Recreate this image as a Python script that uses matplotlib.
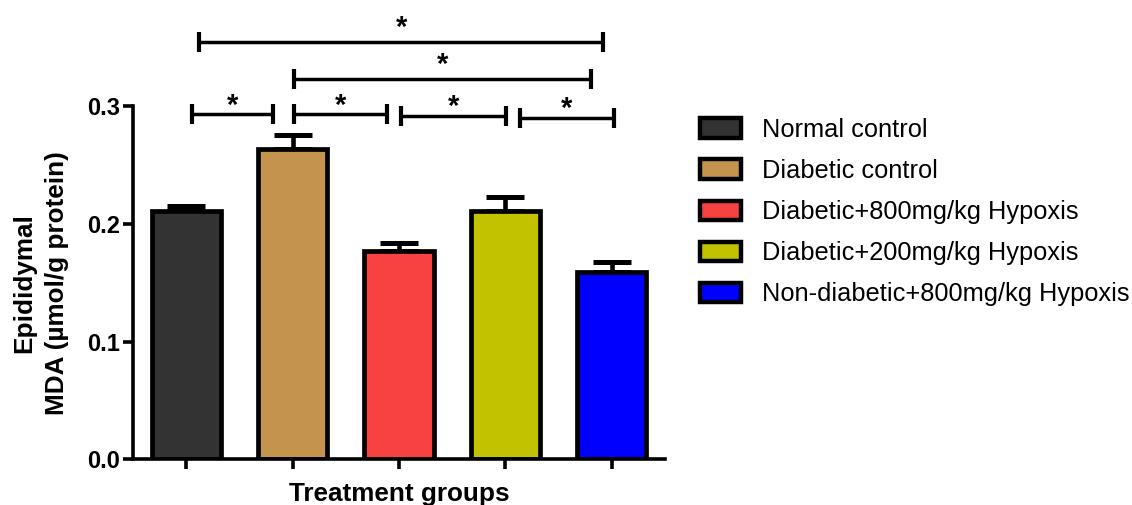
import matplotlib
matplotlib.use("Agg")
import matplotlib.pyplot as plt
from matplotlib.patches import Patch
import numpy as np

plt.rcParams['font.family'] = ['Liberation Sans', 'DejaVu Sans']

groups = ["Normal control", "Diabetic control", "Diabetic+800mg/kg Hypoxis",
          "Diabetic+200mg/kg Hypoxis", "Non-diabetic+800mg/kg Hypoxis"]
means = [0.2105, 0.2638, 0.1769, 0.2105, 0.1594]
errors = [0.0049, 0.0117, 0.0068, 0.0119, 0.0081]
colors = ["#333333", "#C4944F", "#F84242", "#C2C200", "#0000FF"]
yticks = [0.0, 0.1, 0.2, 0.3]
ytick_labels = ["0.0", "0.1", "0.2", "0.3"]

# significance brackets (x start, x end, height) and their labels
br_x1 = [0.12, 1.015, 0.055, 1.015, 2.018, 3.136]
br_x2 = [3.92, 3.80, 0.818, 1.883, 3.004, 4.02]
br_y = [0.354, 0.3229, 0.2929, 0.2929, 0.2915, 0.2900]
br_lab = ["*", "*", "*", "*", "*", "*"]

W, H = 1132, 505
fig = plt.figure(figsize=(W / 100, H / 100), dpi=100)
ax = fig.add_axes([133 / W, (H - 459.3) / H, 532 / W, 353.3 / H])

x = np.arange(len(groups))
ax.bar(x, means, width=0.651, color=colors, edgecolor="black", linewidth=3.4,
       zorder=2)
ax.errorbar(x, means, yerr=[np.zeros(len(errors)), errors], fmt="none",
            ecolor="black", elinewidth=3.3, capsize=13.5, capthick=3.6,
            zorder=1)

ax.set_xlim(-0.5, 4.5)
ax.set_ylim(0, 0.3)
ax.set_yticks(yticks)
ax.set_yticklabels(ytick_labels, fontsize=17, fontweight="bold")
ax.set_xticks(x)
ax.set_xticklabels([])
for s in ["top", "right"]:
    ax.spines[s].set_visible(False)
for s in ["left", "bottom"]:
    ax.spines[s].set_linewidth(2.6)
ax.tick_params(axis="both", width=2.6, length=7.5, direction="out")
ax.tick_params(axis="y", pad=2)

ax.set_xlabel("Treatment groups", fontsize=18.8, fontweight="bold", labelpad=5)
ax.set_ylabel("Epididymal\nMDA (\u00b5mol/g protein)", fontsize=18.8,
              fontweight="bold", labelpad=13, linespacing=1.45)

tick_h = 0.0085
for x1, x2, y, lab in zip(br_x1, br_x2, br_y, br_lab):
    ax.plot([x1, x2], [y, y], color="black", lw=2.5, clip_on=False,
            solid_capstyle="butt")
    ax.plot([x1, x1], [y - tick_h, y + tick_h], color="black", lw=3.0,
            clip_on=False, solid_capstyle="butt")
    ax.plot([x2, x2], [y - tick_h, y + tick_h], color="black", lw=3.0,
            clip_on=False, solid_capstyle="butt")
    off = 4.5 if y > 0.31 else 0.5
    ax.annotate(lab, xy=((x1 + x2) / 2, y), xytext=(0, off),
                textcoords="offset points", ha="center", va="baseline",
                fontsize=21, fontweight="bold", annotation_clip=False)

# legend
handles = [Patch(facecolor=c, edgecolor="black", linewidth=3.2) for c in colors]
leg = fig.legend(handles, groups, loc="upper left",
                 bbox_to_anchor=(700 / W, 1 - 118 / H),
                 bbox_transform=fig.transFigure, frameon=False,
                 fontsize=18.3, handlelength=1.6, handleheight=0.8,
                 handletextpad=0.85, labelspacing=0.67, borderpad=0,
                 borderaxespad=0)

fig.savefig("out.png", dpi=100)
